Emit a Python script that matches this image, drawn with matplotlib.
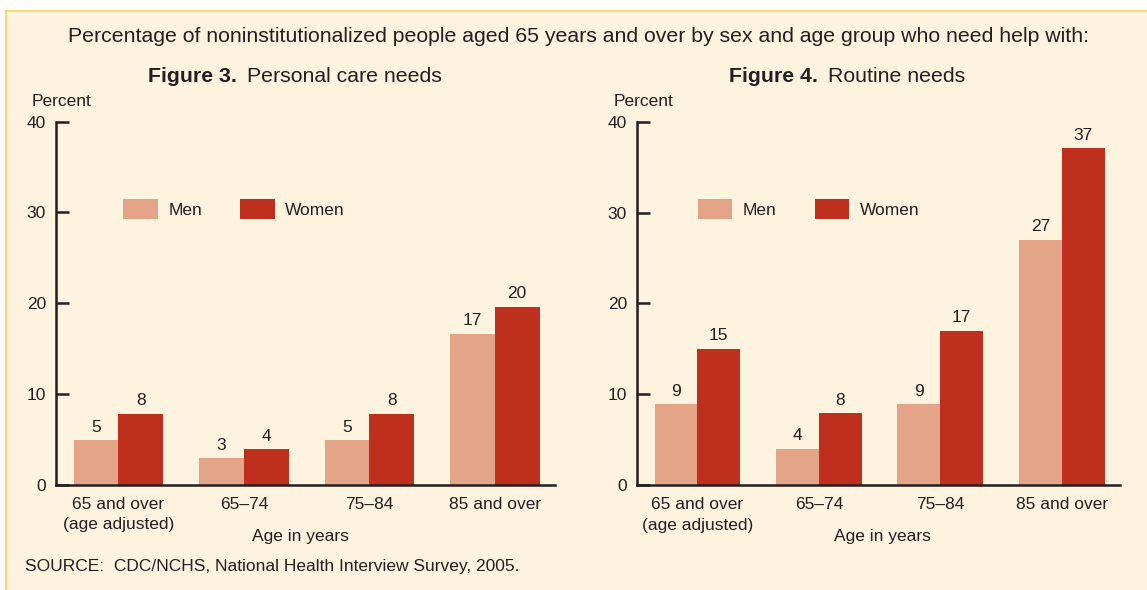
import matplotlib.pyplot as plt
import numpy as np
from matplotlib.lines import Line2D
from matplotlib.patches import Rectangle

plt.rcParams['font.family'] = ['Liberation Sans', 'DejaVu Sans']

# data
age_groups = ['65 and over\n(age adjusted)', '65\u201374', '75\u201384', '85 and over']
personal_men = [4.9, 2.9, 4.9, 16.6]
personal_women = [7.8, 3.9, 7.8, 19.6]
routine_men = [8.9, 4.0, 8.9, 27.0]
routine_women = [15.0, 7.9, 17.0, 37.1]

men_color = '#E3A488'
women_color = '#BE2F1E'
bg = '#FEF3DF'
ink = '#231F20'

W, H = 1147, 590
fig = plt.figure(figsize=(W / 100, H / 100), dpi=100, facecolor='white')


def fx(px):
    return px / W


def fy(py):
    return 1 - py / H


# cream panel with gold top/left border
fig.patches.append(Rectangle((fx(6), 0), 1 - fx(6), fy(11), transform=fig.transFigure,
                             facecolor=bg, edgecolor='none', zorder=-10))
fig.lines.append(Line2D([fx(6), 1], [fy(11), fy(11)], transform=fig.transFigure,
                        color='#FBD56A', lw=1.3, zorder=-9))
fig.lines.append(Line2D([fx(6), fx(6)], [fy(11), 0], transform=fig.transFigure,
                        color='#FBD56A', lw=1.3, zorder=-9))

fig.text(fx(578), fy(36), 'Percentage of noninstitutionalized people aged 65 years and over by sex '
         'and age group who need help with:', ha='center', va='center', fontsize=15.3, color=ink)


def panel(rect, men, women, fig_no, title, title_x, pct_x, xlabel_x, width, leg_x):
    ax = fig.add_axes(rect)
    ax.set_facecolor('none')
    x = np.arange(len(age_groups))
    b1 = ax.bar(x - width / 2, men, width, color=men_color, label='Men', zorder=2)
    b2 = ax.bar(x + width / 2, women, width, color=women_color, label='Women', zorder=2)
    for bars, vals in ((b1, men), (b2, women)):
        for b, v in zip(bars, vals):
            ax.annotate(str(int(round(v))), (b.get_x() + b.get_width() / 2, v),
                        xytext=(0, 4), textcoords='offset points', ha='center', va='bottom',
                        fontsize=12.5, color=ink)
    ax.set_ylim(0, 40)
    ax.set_yticks([0, 10, 20, 30, 40])
    ax.set_xlim(-0.5, 3.48)
    ax.set_xticks(x)
    ax.set_xticklabels(age_groups, fontsize=12.5, color=ink, linespacing=1.45)
    ax.tick_params(axis='x', length=0, pad=8.5)
    ax.tick_params(axis='y', direction='in', length=9, width=1.8, color=ink,
                   labelsize=12.5, labelcolor=ink, pad=7)
    for s in ('top', 'right'):
        ax.spines[s].set_visible(False)
    for s in ('left', 'bottom'):
        ax.spines[s].set_linewidth(1.8)
        ax.spines[s].set_color(ink)
    ax.legend(loc='upper left', bbox_to_anchor=(leg_x, 0.787), ncol=2, frameon=False,
              fontsize=12.5, handlelength=2.0, handleheight=1.4, handletextpad=0.6,
              columnspacing=2.2, borderpad=0, borderaxespad=0, labelcolor=ink)
    # figure title: bold number + regular name
    t = fig.text(fx(title_x), fy(76), 'Figure %d.' % fig_no, ha='left', va='center',
                 fontsize=15.3, fontweight='bold', color=ink)
    ax.annotate(title, xy=(1, 0.5), xycoords=t, xytext=(7, 0), textcoords='offset points',
                ha='left', va='center', fontsize=15.3, color=ink)
    fig.text(fx(pct_x), fy(101), 'Percent', ha='left', va='center', fontsize=12.5, color=ink)
    fig.text(fx(xlabel_x), fy(537), 'Age in years', ha='center', va='center', fontsize=12.5, color=ink)
    return ax


panel([fx(55.7), fy(484.7), fx(555 - 55.7), (484.7 - 121.7) / H],
      personal_men, personal_women, 3, 'Personal care needs', 148, 32, 300, 0.357, 0.135)
panel([fx(636.7), fy(485.3), fx(1120 - 636.7), (485.3 - 121.7) / H],
      routine_men, routine_women, 4, 'Routine needs', 729, 614, 882, 0.353, 0.126)

fig.text(fx(25), fy(567), 'SOURCE:  CDC/NCHS, National Health Interview Survey, 2005.',
         ha='left', va='center', fontsize=12.5, color=ink)

fig.savefig('out.png', dpi=100, facecolor=fig.get_facecolor())
